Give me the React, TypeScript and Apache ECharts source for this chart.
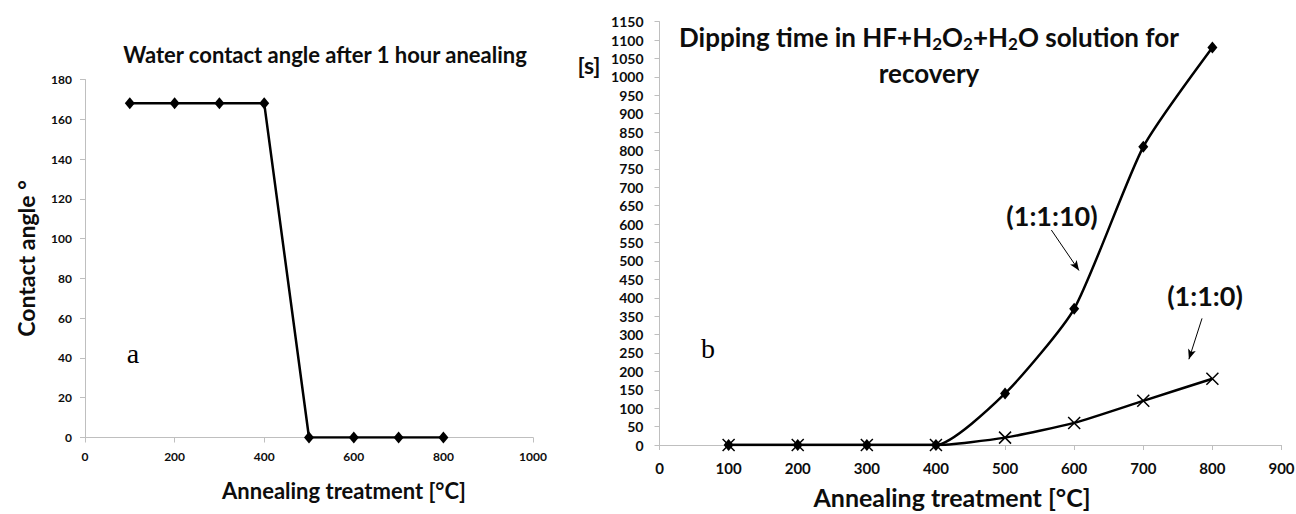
import React, { useEffect, useRef } from "react";
import * as echarts from "echarts";

// ---- data ----
const tempsA = [100, 200, 300, 400, 500, 600, 700, 800];
const contactAngle = [168, 168, 168, 168, 0, 0, 0, 0];

const tempsB = [100, 200, 300, 400, 500, 600, 700, 800];
const dip1110 = [0, 0, 0, 0, 140, 370, 810, 1080];
const dip110 = [0, 0, 0, 0, 20, 60, 120, 180];

// arrow annotations in data coordinates of chart b
const arrow1110 = [[567, 584], [607, 474]];
const arrow110 = [[785, 344], [766, 233]];

const FONT = "Lato, 'Open Sans', sans-serif";
const AXIS_GRAY = "#bfbfbf";
const CROSS = "path://M0,0L10,10M10,0L0,10";
const TXT = "#0d0d0d";

export default function App() {
  const ref = useRef<HTMLDivElement>(null);

  useEffect(() => {
    document.body.style.margin = "0";
    const chart = echarts.init(ref.current!, null, { renderer: "svg" });

    const axisCommon = {
      axisLine: { show: true, lineStyle: { color: AXIS_GRAY, width: 1 } },
      axisTick: { show: true, length: 5, lineStyle: { color: AXIS_GRAY } },
      splitLine: { show: false },
    };
    const plain = (v: number) => String(v);

    const option: any = {
      animation: false,
      backgroundColor: "#ffffff",
      textStyle: { fontFamily: FONT },
      title: [
        {
          text: "Water contact angle after 1 hour anealing",
          left: 320,
          top: 38,
          textAlign: "center",
          textStyle: { fontFamily: FONT, fontWeight: "bold", fontSize: 22, color: TXT },
        },
        {
          text:
            "Dipping time in HF+H{sub|2}O{sub|2}+H{sub|2}O solution for\nrecovery",
          left: 924,
          top: 14,
          textAlign: "center",
          textStyle: {
            fontFamily: FONT,
            fontWeight: "bold",
            fontSize: 26,
            color: TXT,
            lineHeight: 36,
            rich: {
              sub: { fontFamily: FONT, fontWeight: "bold", fontSize: 17, color: TXT, padding: [12, 0, 0, 0] },
            },
          },
        },
      ],
      grid: [
        { left: 85, top: 79.5, width: 448, height: 358, containLabel: false, outerBoundsMode: "none" },
        { left: 659.5, top: 21.7, width: 622, height: 423.3, containLabel: false, outerBoundsMode: "none" },
      ],
      xAxis: [
        {
          gridIndex: 0,
          type: "value",
          min: 0,
          max: 1000,
          interval: 200,
          ...axisCommon,
          axisLabel: { fontFamily: FONT, fontWeight: "bold", fontSize: 12, color: TXT, margin: 13, formatter: plain },
        },
        {
          gridIndex: 1,
          type: "value",
          min: 0,
          max: 900,
          interval: 100,
          ...axisCommon,
          axisLabel: { fontFamily: FONT, fontWeight: "bold", fontSize: 15, color: TXT, margin: 15, formatter: plain },
        },
      ],
      yAxis: [
        {
          gridIndex: 0,
          type: "value",
          min: 0,
          max: 180,
          interval: 20,
          ...axisCommon,
          axisLabel: { fontFamily: FONT, fontWeight: "bold", fontSize: 12, color: TXT, margin: 13, formatter: plain },
          name: "Contact angle °",
          nameLocation: "middle",
          nameRotate: 90,
          nameGap: 48,
          nameTextStyle: { fontFamily: FONT, fontWeight: "bold", fontSize: 23, color: TXT },
        },
        {
          gridIndex: 1,
          type: "value",
          min: 0,
          max: 1150,
          interval: 50,
          ...axisCommon,
          axisLabel: { fontFamily: FONT, fontWeight: "bold", fontSize: 14, color: TXT, margin: 16, formatter: plain },
        },
      ],
      series: [
        {
          type: "line",
          xAxisIndex: 0,
          yAxisIndex: 0,
          data: tempsA.map((t, i) => [t, contactAngle[i]]),
          symbol: "diamond",
          symbolSize: [10, 12],
          lineStyle: { color: "#000", width: 2.5 },
          itemStyle: { color: "#000" },
          z: 3,
        },
        {
          type: "line",
          xAxisIndex: 1,
          yAxisIndex: 1,
          data: tempsB.map((t, i) => [t, dip1110[i]]),
          smooth: 0.2,
          symbol: "diamond",
          symbolSize: [10, 12],
          lineStyle: { color: "#000", width: 2.5 },
          itemStyle: { color: "#000" },
          z: 3,
          markLine: {
            silent: true,
            symbol: ["none", "arrow"],
            symbolSize: [6, 10],
            label: { show: false },
            lineStyle: { color: "#000", width: 1, type: "solid" },
            data: [
              [{ coord: arrow1110[0] }, { coord: arrow1110[1] }],
              [{ coord: arrow110[0] }, { coord: arrow110[1] }],
            ],
          },
        },
        {
          type: "line",
          xAxisIndex: 1,
          yAxisIndex: 1,
          data: tempsB.map((t, i) => [t, dip110[i]]),
          smooth: 0.2,
          symbol: CROSS,
          symbolSize: 12,
          lineStyle: { color: "#000", width: 2.5 },
          itemStyle: { color: "transparent", borderColor: "#000", borderWidth: 1.5 },
          z: 4,
        },
      ],
      graphic: [
        {
          type: "text",
          x: 344,
          y: 490,
          style: {
            text: "Annealing treatment [°C]",
            fontFamily: FONT,
            fontWeight: "bold",
            fontSize: 22,
            fill: TXT,
            align: "center",
            verticalAlign: "middle",
          },
        },
        {
          type: "text",
          x: 952,
          y: 497,
          style: {
            text: "Annealing treatment [°C]",
            fontFamily: FONT,
            fontWeight: "bold",
            fontSize: 25,
            fill: TXT,
            align: "center",
            verticalAlign: "middle",
          },
        },
        {
          type: "text",
          x: 133,
          y: 353,
          style: {
            text: "a",
            fontFamily: "'Liberation Serif', serif",
            fontSize: 28,
            fill: "#000",
            align: "center",
            verticalAlign: "middle",
          },
        },
        {
          type: "text",
          x: 708,
          y: 348,
          style: {
            text: "b",
            fontFamily: "'Liberation Serif', serif",
            fontSize: 28,
            fill: "#000",
            align: "center",
            verticalAlign: "middle",
          },
        },
        {
          type: "text",
          x: 589,
          y: 65,
          style: {
            text: "[s]",
            fontFamily: FONT,
            fontWeight: "bold",
            fontSize: 23,
            fill: TXT,
            align: "center",
            verticalAlign: "middle",
          },
        },
        {
          type: "text",
          x: 1052,
          y: 215,
          style: {
            text: "(1:1:10)",
            fontFamily: FONT,
            fontWeight: "bold",
            fontSize: 27,
            fill: TXT,
            align: "center",
            verticalAlign: "middle",
          },
        },
        {
          type: "text",
          x: 1205,
          y: 295,
          style: {
            text: "(1:1:0)",
            fontFamily: FONT,
            fontWeight: "bold",
            fontSize: 27,
            fill: TXT,
            align: "center",
            verticalAlign: "middle",
          },
        },
      ],
    };

    chart.setOption(option);
    return () => chart.dispose();
  }, []);

  return <div ref={ref} style={{ width: 1296, height: 514 }} />;
}
